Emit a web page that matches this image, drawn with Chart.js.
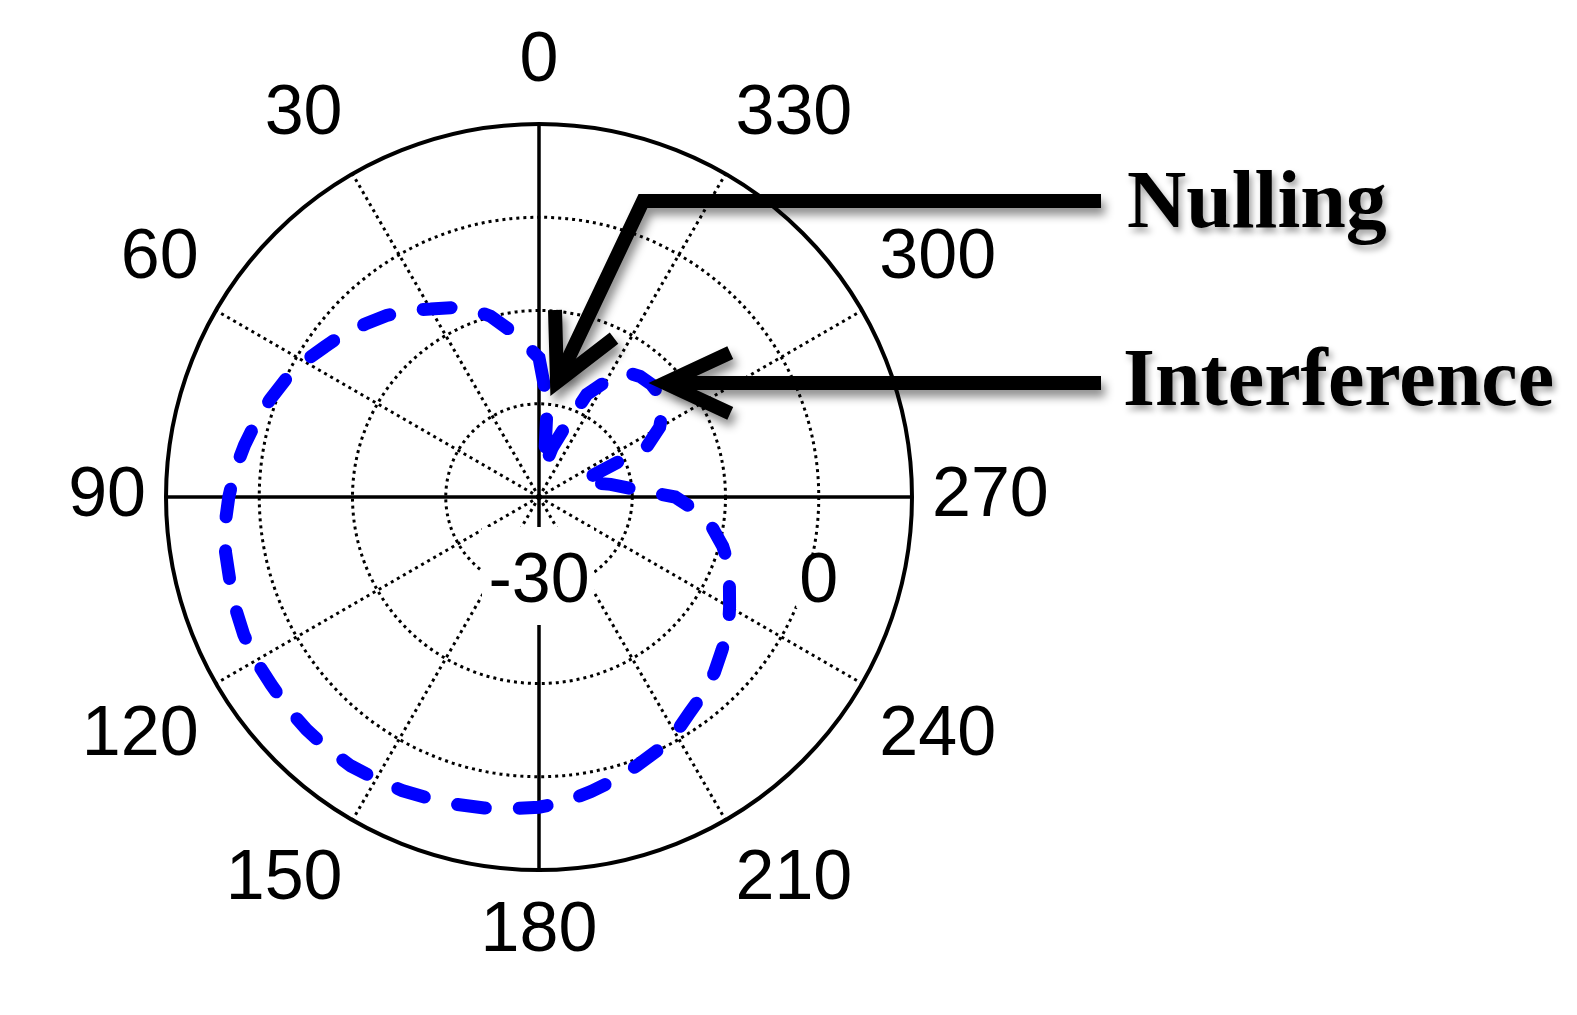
<!DOCTYPE html>
<html>
<head>
<meta charset="utf-8">
<title>Polar pattern - nulling</title>
<script src="https://cdn.jsdelivr.net/npm/chart.js@4.4.1/dist/chart.umd.min.js"></script>
<style>
  html, body { margin: 0; padding: 0; background: #fff; }
  #wrap { position: relative; width: 1577px; height: 1015px; }
</style>
</head>
<body>
<div id="wrap"><canvas id="chart"></canvas></div>
<script>
/* Polar gain pattern (dB) with a null steered at the interferer */

// --- Data ---

// azimuth in degrees, counter-clockwise from the top
const angles = [
    0, 5, 10, 15, 20, 25, 30, 35, 40, 45, 50, 55,
    60, 65, 70, 75, 80, 85, 90, 95, 100, 105, 110, 115,
    120, 125, 130, 135, 140, 145, 150, 155, 160, 165, 170, 175,
    180, 185, 190, 195, 200, 205, 210, 215, 220, 225, 230, 235,
    240, 245, 250, 255, 260, 265, 270, 275, 280, 285, 290, 295,
    300, 305, 310, 315, 320, 325, 330, 335, 340, 345, 350, 355
];

// gain in dB at each azimuth
const gainDb = [
    -22.6, -20.4, -17.7, -14.9, -12.8, -11.4, -10.1, -8.3, -6.9, -5.6, -4.1, -2.9,
    -1.4, -0.1, 1.0, 2.1, 3.1, 4.1, 4.9, 5.7, 6.2, 6.5, 7.0, 7.4,
    7.6, 7.6, 7.8, 7.9, 7.9, 7.8, 7.4, 7.1, 6.6, 6.2, 5.8, 5.3,
    4.9, 4.2, 3.1, 2.1, 1.0, 0.0, -1.1, -2.7, -3.8, -5.1, -6.6, -7.8,
    -9.6, -11.2, -12.5, -14.4, -16.7, -19.6, -23.1, -29.9, -33.3, -36.2, -37.8, -25.9,
    -22.6, -20.7, -19.6, -19.4, -19.7, -20.5, -23.6, -26.8, -33.3, -36.8, -40.2, -29.6
];

const angleTicks = [0, 30, 60, 90, 120, 150, 180, 210, 240, 270, 300, 330];
const axisAngles = [0, 90, 180, 270];
const rTicks = [-45, -30, -15, 0, 15];
const rLabels = [-30, 0];

const callouts = ['Nulling', 'Interference'];

// radar runs clockwise, the pattern is counter-clockwise
const order = angles.map(a => angles.indexOf((360 - a) % 360));
const radarLabels = order.map(k => angles[k]);
const radarData = order.map(k => gainDb[k]);

// --- Helpers ---

function isAxis(i) {
    return axisAngles.includes(radarLabels[i]);
}

function isSpoke(i) {
    return angleTicks.includes(radarLabels[i]);
}

function arrowHead(ctx, tip, from, len, spread) {
    const back = Math.atan2(from.y - tip.y, from.x - tip.x);
    ctx.beginPath();
    ctx.moveTo(tip.x + len * Math.cos(back + spread), tip.y + len * Math.sin(back + spread));
    ctx.lineTo(tip.x, tip.y);
    ctx.lineTo(tip.x + len * Math.cos(back - spread), tip.y + len * Math.sin(back - spread));
    ctx.stroke();
}

// --- Plugins ---

const rTickLabels = {
    id: 'rTickLabels',
    beforeDatasetsDraw(chart) {
        const s = chart.scales.r;
        const ctx = chart.ctx;
        const y = s.yCenter + 84;
        ctx.save();
        ctx.font = '70px "Liberation Sans", Arial, sans-serif';
        ctx.textAlign = 'center';
        ctx.textBaseline = 'middle';
        rLabels.forEach((v, i) => {
            const x = i === 0 ? s.xCenter : s.xCenter + s.getDistanceFromCenterForValue(v);
            const w = ctx.measureText(String(v)).width;
            ctx.fillStyle = '#fff';
            if (i === 0) ctx.fillRect(x - 57, s.yCenter + 30, 112, 98);
            else ctx.fillRect(x - w / 2 - 3, y - 27, w + 6, 54);
            ctx.fillStyle = '#000';
            ctx.fillText(String(v), x, y + 2);
        });
        ctx.restore();
    }
};

const annotations = {
    id: 'annotations',
    afterDraw(chart) {
        const ctx = chart.ctx;
        ctx.save();
        ctx.shadowColor = 'rgba(0, 0, 0, 0.45)';
        ctx.shadowBlur = 10;
        ctx.shadowOffsetX = 4;
        ctx.shadowOffsetY = 7;
        ctx.strokeStyle = '#000';
        ctx.lineWidth = 14;
        ctx.lineJoin = 'miter';
        ctx.lineCap = 'butt';

        // Nulling
        const nTip = { x: 557, y: 382 };
        const nBend = { x: 643, y: 201 };
        ctx.beginPath();
        ctx.moveTo(1101, 201);
        ctx.lineTo(nBend.x, nBend.y);
        ctx.lineTo(nTip.x + 4, nTip.y - 8);
        ctx.stroke();
        arrowHead(ctx, nTip, nBend, 72, 27 * Math.PI / 180);

        // Interference
        const iTip = { x: 665, y: 383 };
        ctx.beginPath();
        ctx.moveTo(1101, 383);
        ctx.lineTo(iTip.x + 8, iTip.y);
        ctx.stroke();
        arrowHead(ctx, iTip, { x: 1101, y: 383 }, 72, 25 * Math.PI / 180);

        ctx.shadowBlur = 6;
        ctx.shadowOffsetX = 3;
        ctx.shadowOffsetY = 5;
        ctx.shadowColor = 'rgba(0, 0, 0, 0.35)';
        ctx.fillStyle = '#000';
        ctx.font = 'bold 82px "Liberation Serif", "Times New Roman", serif';
        ctx.textAlign = 'left';
        ctx.textBaseline = 'alphabetic';
        ctx.fillText(callouts[0], 1127, 227);
        ctx.fillText(callouts[1], 1123, 405);
        ctx.restore();
    }
};

// --- Chart ---

new Chart(document.getElementById('chart'), {
    type: 'radar',
    data: {
        labels: radarLabels,
        datasets: [{
            data: radarData,
            borderColor: '#0000ff',
            backgroundColor: 'rgba(0,0,0,0)',
            borderWidth: 13,
            borderDash: [28, 34],
            borderCapStyle: 'round',
            fill: false,
            tension: 0,
            pointRadius: 0,
            pointHoverRadius: 0,
        }]
    },
    options: {
        responsive: true,
        maintainAspectRatio: false,
        animation: false,
        layout: { padding: { left: 0, top: 20, right: 460, bottom: 41 } },
        plugins: {
            legend: { display: false },
            tooltip: { enabled: false },
        },
        scales: {
            r: {
                min: rTicks[0],
                max: rTicks[rTicks.length - 1],
                startAngle: 0,
                ticks: { display: false, stepSize: 15 },
                grid: {
                    circular: true,
                    color: '#000',
                    lineWidth: c => c.index === 0 ? 0 : (c.index === rTicks.length - 1 ? 4 : 3),
                },
                border: {
                    dash: c => c.index === rTicks.length - 1 ? [] : [3, 4],
                },
                angleLines: {
                    color: '#000',
                    lineWidth: c => isAxis(c.index) ? 3.5 : (isSpoke(c.index) ? 3 : 0),
                    borderDash: c => isAxis(c.index) ? [] : [3, 4],
                },
                pointLabels: {
                    color: '#000',
                    padding: 20,
                    font: { family: '"Liberation Sans", Arial, sans-serif', size: 70 },
                    callback: (label) => angleTicks.includes(Number(label)) ? String(label) : '',
                },
            }
        }
    },
    plugins: [rTickLabels, annotations]
});
</script>
</body>
</html>
